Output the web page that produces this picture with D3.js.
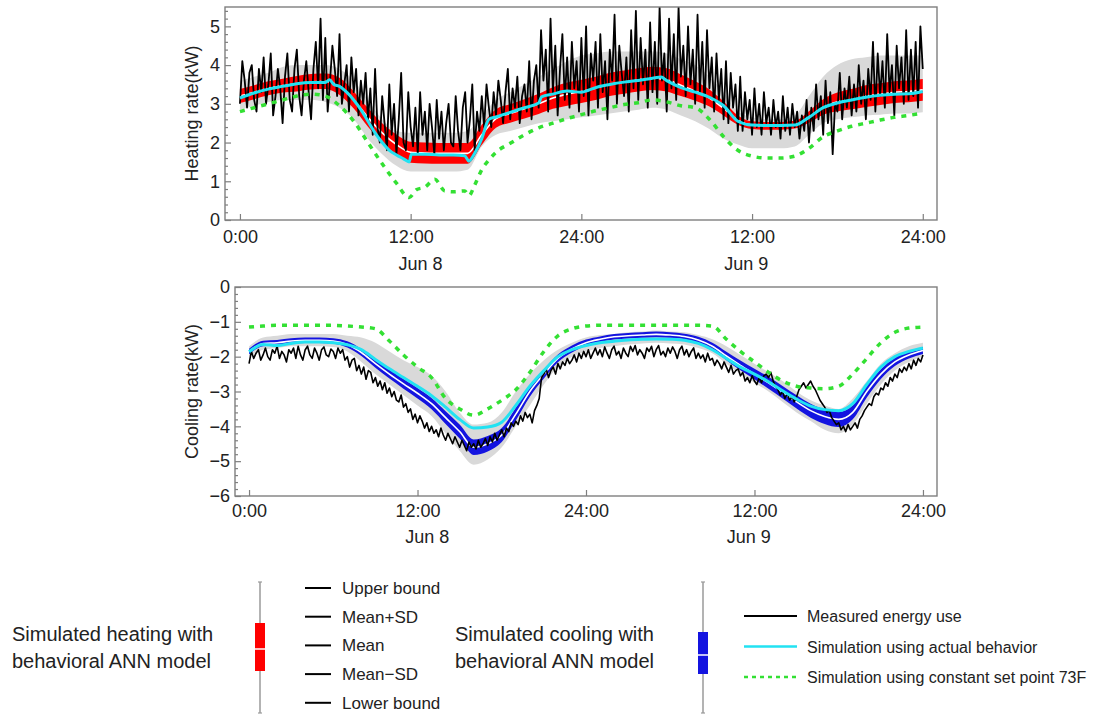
<!DOCTYPE html>
<html>
<head>
<meta charset="utf-8">
<script src="https://cdn.jsdelivr.net/npm/d3@7"></script>
<style>
	body { margin: 0; background: #fff; }
	svg { display: block; font-family: 'Liberation Sans', Arial, sans-serif; }
</style>
</head>
<body>
<div class="chart"></div>
<script>
const HOURS = d3.range(0, 49)
const STEP = 1 / 6 // measured data every 10 min
const X_TICKS = [0, 12, 24, 36, 48]
const X_TICK_LABELS = ['0:00', '12:00', '24:00', '12:00', '24:00']
const DAY_LABELS = ['Jun 8', 'Jun 9']
const DAY_AT = [12.7, 35.6]

const COLORS = { band: '#d9d9d9', heat: '#ff0000', cool: '#1414e0', actual: '#22e2f2', constant: '#33e033', measured: '#000' }

// ---- heating ----
const heatUpper = [3.6,3.7,3.8,3.95,4.0,4.0,4.0,3.9,3.6,3.1, 2.6,2.3,2.25,2.25,2.25,2.25,2.3,2.7,3.1,3.3, 3.5,3.7,3.9,4.1,4.25,4.3,4.35,4.35,4.35,4.35, 4.3,4.15,4.0,3.7,3.3,2.8,2.65,2.6,2.6,2.7, 3.2,3.7,4.0,4.15,4.2,4.25,4.25,4.25,4.25]
const heatLower = [2.85,2.95,3.05,3.1,3.1,3.1,3.05,2.9,2.6,2.1, 1.7,1.4,1.25,1.25,1.25,1.25,1.3,1.9,2.2,2.3, 2.4,2.5,2.55,2.6,2.65,2.7,2.75,2.8,2.85,2.9, 2.85,2.7,2.55,2.35,2.1,1.95,1.85,1.85,1.85,1.9, 2.2,2.5,2.6,2.65,2.7,2.72,2.75,2.75,2.78]
const heatMean = [3.2,3.3,3.4,3.47,3.52,3.57,3.58,3.45,3.1,2.65, 2.25,1.95,1.75,1.73,1.72,1.72,1.72,2.2,2.62,2.75, 2.87,3.0,3.15,3.25,3.32,3.4,3.5,3.56,3.62,3.66, 3.62,3.48,3.33,3.15,2.88,2.58,2.45,2.43,2.43,2.46, 2.66,2.92,3.05,3.12,3.2,3.25,3.3,3.32,3.36]
const heatSd = [0.18,0.18,0.18,0.18,0.2,0.2,0.2,0.22,0.22,0.24, 0.25,0.26,0.27,0.27,0.27,0.27,0.27,0.26,0.24,0.24, 0.25,0.26,0.28,0.3,0.3,0.3,0.3,0.3,0.3,0.3, 0.3,0.28,0.25,0.22,0.18,0.12,0.1,0.1,0.1,0.1, 0.15,0.2,0.24,0.26,0.28,0.28,0.28,0.28,0.28]
const heatActual = [[0,3.15],[1,3.28],[2,3.38],[3,3.45],[4,3.52],[5,3.55],[6,3.55],[6.3,3.62],[6.6,3.5],[7,3.45],[7.5,3.3],[8,3.1],[8.5,2.85],[9,2.55],[9.5,2.25],[10,2.0],[10.5,1.8],[11,1.68],[11.5,1.58],[11.9,1.5],[12.05,1.7],[13,1.7],[14,1.68],[15,1.68],[15.8,1.66],[16.1,1.52],[16.4,1.66],[17,2.1],[17.5,2.6],[18,2.66],[19,2.78],[20,2.9],[21,3.02],[21.2,3.18],[22,3.25],[23,3.33],[24,3.3],[24.5,3.35],[25,3.42],[26,3.5],[27,3.56],[28,3.6],[29,3.66],[29.6,3.69],[30,3.6],[31,3.42],[32,3.3],[33,3.17],[34,2.95],[35,2.55],[36,2.45],[37,2.44],[38,2.44],[39,2.45],[40,2.65],[41,2.9],[42,3.02],[43,3.1],[44,3.17],[45,3.22],[46,3.25],[47,3.26],[48,3.32]]
const heatConstant = [[0,2.8],[1,2.9],[2,3.0],[3,3.1],[4,3.2],[5,3.25],[6,3.2],[7,2.95],[8,2.55],[9,2.0],[10,1.45],[11,0.95],[11.9,0.58],[12.4,0.78],[13,0.85],[13.7,1.05],[14.4,0.75],[15,0.73],[15.8,0.75],[16.1,0.63],[16.5,0.9],[17,1.3],[17.5,1.55],[18,1.75],[19,1.98],[20,2.2],[21,2.38],[22,2.5],[23,2.62],[24,2.72],[25,2.82],[26,2.9],[27,2.98],[28,3.03],[29,3.1],[30,3.05],[31,2.95],[32,2.9],[33,2.6],[34,2.15],[35,1.8],[36,1.65],[37,1.6],[38,1.6],[39,1.65],[40,1.85],[41,2.15],[42,2.3],[43,2.42],[44,2.5],[45,2.58],[46,2.65],[47,2.7],[48,2.76]]
const heatMeasured = [
	3.0,4.1,3.6,2.9,3.8,4.0, 3.1,2.8,3.9,3.3,4.2,3.0, 3.5,4.3,2.7,3.2,3.9,3.4, 2.5,3.7,4.3,3.1,2.8,3.9,
	4.4,3.2,2.7,3.6,4.1,3.3, 2.6,3.9,4.6,3.4,5.2,3.1, 4.7,2.8,3.6,4.5,3.9,3.2, 4.8,3.0,3.5,4.0,2.8,4.2,
	3.3,3.9,2.7,3.6,3.0,3.8, 2.6,3.4,2.2,3.9,2.4,2.0, 3.2,2.5,1.8,3.5,2.2,3.0, 1.7,2.6,3.8,2.0,1.8,3.3,
	2.4,1.9,2.9,1.7,3.3,2.2, 2.8,1.8,3.0,2.4,1.7,3.1, 2.1,2.8,1.8,2.5,3.0,2.0, 1.9,3.2,2.3,1.8,2.9,3.3,
	2.0,2.6,3.5,1.8,2.8,2.3, 3.2,2.4,3.5,2.9,2.4,3.3, 2.7,3.6,3.1,2.5,3.3,3.9, 2.6,3.4,2.9,3.7,2.5,3.2,
	3.5,2.8,4.1,2.6,3.6,4.0, 2.9,4.9,3.6,4.4,2.8,5.2, 3.3,4.5,2.7,3.9,4.8,3.1, 4.2,2.9,4.6,3.4,4.1,2.8,
	4.7,3.2,5.0,2.7,4.3,3.6, 4.6,2.9,4.8,3.3,4.1,2.6, 4.4,3.6,5.3,3.0,4.5,3.8, 3.2,4.2,2.8,4.9,3.4,5.4,
	3.1,4.7,3.5,4.4,2.9,5.1, 3.3,4.6,3.0,5.5,3.6,4.3, 2.8,5.2,3.4,4.8,3.1,5.5, 3.7,4.5,3.2,5.0,3.5,4.4,
	3.0,5.3,3.3,4.6,2.9,4.9, 3.4,4.2,2.8,4.3,3.1,3.9, 2.6,4.1,2.5,3.8,2.9,3.5, 2.3,3.7,2.3,3.3,2.6,3.1,
	2.2,3.4,2.4,3.0,2.2,3.3, 2.5,2.9,2.2,3.1,2.4,2.8, 2.1,3.2,2.3,2.9,2.2,3.0, 2.4,2.8,2.1,2.7,2.3,3.1,
	2.0,2.9,2.3,3.5,2.6,3.2, 2.2,3.6,2.5,3.3,1.7,3.0, 2.8,3.8,2.6,3.4,2.9,3.7, 2.7,3.5,2.8,4.0,3.0,3.6,
	2.6,3.9,3.1,4.6,2.8,4.3, 3.2,4.1,2.9,4.8,3.3,4.0, 2.7,4.5,3.4,4.2,3.0,4.9, 3.1,4.4,3.2,4.6,2.9,5.0,
	3.9
]

// ---- cooling ----
const coolUpper = [-1.7,-1.45,-1.4,-1.35,-1.35,-1.35,-1.35,-1.4,-1.45,-1.6, -1.85,-2.1,-2.3,-2.55,-3.0,-3.6,-3.95,-3.9,-3.6,-3.0, -2.5,-2.1,-1.8,-1.6,-1.45,-1.38,-1.35,-1.3,-1.28,-1.25, -1.28,-1.3,-1.38,-1.5,-1.7,-1.95,-2.2,-2.45,-2.7,-3.0, -3.25,-3.4,-3.5,-3.2,-2.7,-2.2,-1.9,-1.7,-1.6]
const coolLower = [-2.0,-1.8,-1.75,-1.7,-1.7,-1.7,-1.72,-1.85,-2.15,-2.5, -2.8,-3.1,-3.4,-3.7,-4.2,-4.7,-5.1,-4.95,-4.6,-4.0, -3.4,-2.8,-2.3,-2.0,-1.85,-1.75,-1.7,-1.65,-1.62,-1.6, -1.62,-1.65,-1.75,-1.9,-2.2,-2.5,-2.75,-3.0,-3.3,-3.6, -3.85,-4.1,-4.2,-3.95,-3.35,-2.8,-2.4,-2.15,-2.0]
const coolMean = [-1.85,-1.62,-1.6,-1.55,-1.53,-1.53,-1.55,-1.65,-1.88,-2.2, -2.5,-2.78,-3.05,-3.35,-3.75,-4.15,-4.6,-4.5,-4.25,-3.65, -3.0,-2.5,-2.05,-1.78,-1.6,-1.5,-1.43,-1.4,-1.38,-1.36, -1.38,-1.42,-1.52,-1.7,-1.98,-2.25,-2.5,-2.75,-3.02,-3.3, -3.55,-3.72,-3.8,-3.6,-3.0,-2.5,-2.15,-1.95,-1.82]
const coolSd = [0.08,0.08,0.08,0.08,0.08,0.08,0.08,0.09,0.1,0.12, 0.13,0.14,0.15,0.16,0.18,0.2,0.22,0.22,0.2,0.18, 0.15,0.13,0.11,0.1,0.09,0.08,0.08,0.08,0.08,0.08, 0.08,0.08,0.09,0.1,0.12,0.14,0.15,0.17,0.18,0.19, 0.2,0.21,0.22,0.2,0.17,0.14,0.12,0.1,0.1]
const coolActual = [-1.86,-1.65,-1.68,-1.62,-1.58,-1.58,-1.6,-1.66,-1.8,-2.08, -2.35,-2.6,-2.85,-3.12,-3.45,-3.8,-4.05,-4.02,-3.88,-3.4, -2.85,-2.4,-2.0,-1.8,-1.68,-1.6,-1.56,-1.52,-1.5,-1.49, -1.5,-1.53,-1.62,-1.8,-2.05,-2.3,-2.5,-2.72,-2.98,-3.22, -3.42,-3.52,-3.55,-3.35,-2.8,-2.3,-2.0,-1.85,-1.75]
const coolConstant = [-1.15,-1.12,-1.1,-1.1,-1.1,-1.1,-1.1,-1.12,-1.15,-1.2, -1.55,-1.95,-2.3,-2.6,-3.2,-3.5,-3.68,-3.5,-3.25,-2.95, -2.45,-1.85,-1.4,-1.2,-1.12,-1.1,-1.1,-1.1,-1.1,-1.1, -1.1,-1.1,-1.1,-1.12,-1.5,-1.85,-2.15,-2.45,-2.7,-2.85, -2.9,-2.92,-2.85,-2.5,-2.05,-1.6,-1.3,-1.18,-1.15]
const coolMeasured = [
	-2.2,-1.85,-2.05,-1.9,-1.8,-2.1, -1.95,-1.75,-2.0,-2.1,-1.8,-1.9, -1.7,-2.05,-1.85,-1.95,-2.15,-1.8, -1.9,-1.75,-2.05,-1.7,-1.95,-2.1,
	-1.8,-1.7,-1.95,-2.05,-1.75,-1.9, -2.1,-1.8,-1.72,-1.95,-2.0,-1.78, -1.85,-2.05,-1.75,-1.9,-1.8,-2.1, -2.0,-2.3,-2.1,-2.05,-2.4,-2.25,
	-2.5,-2.3,-2.65,-2.4,-2.45,-2.75, -2.6,-2.85,-2.7,-2.95,-2.75,-3.05, -2.9,-3.15,-3.0,-3.25,-3.3,-3.1, -3.45,-3.35,-3.6,-3.5,-3.8,-3.65,
	-3.9,-3.7,-3.85,-4.05,-3.9,-4.15, -4.0,-4.2,-4.1,-4.3,-4.05,-4.25, -4.4,-4.2,-4.35,-4.5,-4.3,-4.45, -4.6,-4.4,-4.55,-4.7,-4.45,-4.6,
	-4.5,-4.65,-4.4,-4.6,-4.5,-4.35, -4.55,-4.3,-4.45,-4.2,-4.4,-4.25, -4.1,-4.3,-4.05,-4.15,-3.9,-4.0, -3.85,-3.95,-3.7,-3.85,-3.6,-3.75,
	-3.65,-3.9,-3.55,-3.4,-3.2,-2.6, -2.5,-2.35,-2.6,-2.4,-2.3,-2.5, -2.2,-2.35,-2.15,-2.25,-2.05,-2.2, -2.1,-1.95,-2.15,-1.9,-2.05,-1.85,
	-2.0,-1.8,-2.05,-1.9,-1.75,-1.95, -1.8,-2.0,-1.72,-1.9,-2.05,-1.8, -1.7,-1.95,-1.85,-2.05,-1.75,-1.9, -2.0,-1.7,-1.85,-1.68,-1.95,-1.8,
	-1.9,-2.05,-1.75,-1.85,-1.7,-2.0, -1.8,-1.68,-1.95,-1.85,-2.0,-1.75, -1.9,-1.72,-1.85,-2.05,-1.8,-1.7, -1.95,-1.8,-2.0,-1.85,-1.75,-2.05,
	-1.9,-2.05,-1.95,-2.15,-1.9,-2.1, -2.05,-2.25,-2.1,-2.2,-2.35,-2.15, -2.3,-2.45,-2.25,-2.5,-2.4,-2.35, -2.55,-2.45,-2.7,-2.6,-2.75,-2.55,
	-2.7,-2.8,-2.6,-2.75,-2.55,-2.5, -2.6,-2.45,-2.7,-2.85,-2.95,-3.1, -3.0,-3.2,-3.05,-3.25,-3.15,-3.3, -3.15,-2.95,-2.85,-2.75,-2.9,-2.8,
	-2.7,-2.85,-2.95,-3.1,-3.25,-3.35, -3.45,-3.6,-3.55,-3.75,-3.85,-3.95, -3.9,-4.1,-4.0,-4.15,-3.95,-4.1, -4.0,-3.9,-4.05,-3.8,-3.7,-3.55,
	-3.45,-3.35,-3.4,-3.15,-3.05,-3.1, -2.9,-2.95,-2.75,-2.85,-2.6,-2.7, -2.5,-2.6,-2.35,-2.45,-2.3,-2.4, -2.2,-2.35,-2.1,-2.25,-2.05,-2.15,
	-1.95
]

const HEAT_LEGEND = ['Upper bound', 'Mean+SD', 'Mean', 'Mean\u2212SD', 'Lower bound']
const COOL_LEGEND = ['Measured energy use', 'Simulation using actual behavior', 'Simulation using constant set point 73F']

const WIDTH = 1120
const HEIGHT = 714
const FONT_SIZE = 18

const svg = d3.select('.chart').append('svg')
	.attr('width', WIDTH)
	.attr('height', HEIGHT)

const hourly = arr => HOURS.map(h => [h, arr[h]])

const panels = [
	{
		id: 'heat', left: 225, right: 937, top: 7, bottom: 220, xMin: -1.05,
		yDomain: [0, 5.5], yTicks: d3.range(0, 6), title: 'Heating rate(kW)',
		xPad: 10, dayY: 270, titleX: 198,
		upper: heatUpper, lower: heatLower, mean: heatMean, sd: heatSd, bandColor: COLORS.heat,
		actual: heatActual, constant: heatConstant, measured: heatMeasured, measuredWidth: 1.8,
	},
	{
		id: 'cool', left: 235, right: 937, top: 287, bottom: 496, xMin: -1.0,
		yDomain: [-6, 0], yTicks: d3.range(-6, 1), title: 'Cooling rate(kW)',
		xPad: 8, dayY: 543, titleX: 198,
		upper: coolUpper, lower: coolLower, mean: coolMean, sd: coolSd, bandColor: COLORS.cool,
		actual: hourly(coolActual), constant: hourly(coolConstant), measured: coolMeasured, measuredWidth: 1.6,
	},
]

function drawPanel(p) {
	const x = d3.scaleLinear().domain([p.xMin, 49]).range([p.left, p.right])
	const y = d3.scaleLinear().domain(p.yDomain).range([p.bottom, p.top])

	svg.append('clipPath').attr('id', 'clip-' + p.id)
		.append('rect')
		.attr('x', p.left).attr('y', p.top)
		.attr('width', p.right - p.left).attr('height', p.bottom - p.top)

	const plot = svg.append('g').attr('clip-path', `url(#clip-${p.id})`)

	// min/max of the behavioural model runs
	plot.append('path').datum(HOURS)
		.attr('fill', COLORS.band)
		.attr('d', d3.area().curve(d3.curveMonotoneX)
			.x(h => x(h)).y0(h => y(p.lower[h])).y1(h => y(p.upper[h])))

	// mean +- sd
	plot.append('path').datum(HOURS)
		.attr('fill', p.bandColor)
		.attr('d', d3.area().curve(d3.curveMonotoneX)
			.x(h => x(h)).y0(h => y(p.mean[h] - p.sd[h])).y1(h => y(p.mean[h] + p.sd[h])))

	plot.append('path').datum(HOURS)
		.attr('fill', 'none').attr('stroke', '#fff').attr('stroke-width', 1.6)
		.attr('d', d3.line().curve(d3.curveMonotoneX).x(h => x(h)).y(h => y(p.mean[h])))

	plot.append('path').datum(p.measured)
		.attr('fill', 'none').attr('stroke', COLORS.measured).attr('stroke-width', p.measuredWidth)
		.attr('stroke-linejoin', 'round')
		.attr('d', d3.line().x((v, i) => x(i * STEP)).y(v => y(v)))

	plot.append('path').datum(p.actual)
		.attr('fill', 'none').attr('stroke', COLORS.actual).attr('stroke-width', 3)
		.attr('d', d3.line().curve(d3.curveMonotoneX).x(d => x(d[0])).y(d => y(d[1])))

	plot.append('path').datum(p.constant)
		.attr('fill', 'none').attr('stroke', COLORS.constant).attr('stroke-width', 3.5)
		.attr('stroke-dasharray', '5,6')
		.attr('d', d3.line().curve(d3.curveMonotoneX).x(d => x(d[0])).y(d => y(d[1])))

	// frame
	svg.append('rect')
		.attr('x', p.left).attr('y', p.top)
		.attr('width', p.right - p.left).attr('height', p.bottom - p.top)
		.attr('fill', 'none').attr('stroke', '#7f7f7f').attr('stroke-width', 1.4)

	const minor = d3.range(p.yDomain[0], p.yDomain[1] + 1e-6, 0.2)
		.filter(v => Math.abs(v - Math.round(v)) > 1e-6)

	const yMinor = svg.append('g')
		.attr('transform', `translate(${p.left},0)`)
		.call(d3.axisLeft(y).tickValues(minor).tickSize(-3).tickFormat(''))

	const yAxis = svg.append('g')
		.attr('transform', `translate(${p.left},0)`)
		.call(d3.axisLeft(y).tickValues(p.yTicks).tickSize(-6).tickPadding(5).tickFormat(d3.format('d')))

	const xAxis = svg.append('g')
		.attr('transform', `translate(0,${p.bottom})`)
		.call(d3.axisBottom(x).tickValues(X_TICKS).tickSize(-6).tickPadding(p.xPad)
			.tickFormat((d, i) => X_TICK_LABELS[i]))

	for (const a of [yMinor, yAxis, xAxis]) {
		a.select('.domain').remove()
		a.selectAll('line').attr('stroke', '#7f7f7f').attr('stroke-width', 1.2)
		a.selectAll('text').attr('fill', '#222').style('font-size', FONT_SIZE + 'px')
	}

	svg.append('g').selectAll('text').data(DAY_LABELS).join('text')
		.attr('x', (d, i) => x(DAY_AT[i]))
		.attr('y', p.dayY)
		.attr('text-anchor', 'middle')
		.attr('fill', '#222')
		.style('font-size', FONT_SIZE + 'px')
		.text(d => d)

	svg.append('text')
		.attr('transform', `translate(${p.titleX},${(p.top + p.bottom) / 2}) rotate(-90)`)
		.attr('text-anchor', 'middle')
		.attr('fill', '#222')
		.style('font-size', FONT_SIZE + 'px')
		.text(p.title)
}

panels.forEach(drawPanel)

// ---- legend ----
function boxGlyph(g, cx, boxTop, boxBottom, mid, color) {
	g.append('line').attr('x1', cx).attr('x2', cx).attr('y1', 582).attr('y2', 713)
		.attr('stroke', '#9a9a9a').attr('stroke-width', 1.5)
	g.append('line').attr('x1', cx - 2).attr('x2', cx + 2).attr('y1', 582).attr('y2', 582)
		.attr('stroke', '#9a9a9a').attr('stroke-width', 1.2)
	g.append('line').attr('x1', cx - 2).attr('x2', cx + 2).attr('y1', 713).attr('y2', 713)
		.attr('stroke', '#9a9a9a').attr('stroke-width', 1.2)
	g.append('rect').attr('x', cx - 5).attr('y', boxTop).attr('width', 10).attr('height', boxBottom - boxTop)
		.attr('fill', color)
	g.append('line').attr('x1', cx - 5).attr('x2', cx + 5).attr('y1', mid).attr('y2', mid)
		.attr('stroke', '#fff').attr('stroke-width', 1.5)
}

const legend = svg.append('g').attr('fill', '#222')

legend.append('text').attr('x', 12).attr('y', 641).style('font-size', '20px').text('Simulated heating with')
legend.append('text').attr('x', 12).attr('y', 668).style('font-size', '20px').text('behavioral ANN model')
boxGlyph(legend, 260, 623, 671, 649, COLORS.heat)

const heatItems = legend.append('g').selectAll('g').data(HEAT_LEGEND).join('g')
	.attr('transform', (d, i) => `translate(0,${588 + i * 28.7})`)
heatItems.append('line').attr('x1', 305).attr('x2', 331).attr('stroke', '#000').attr('stroke-width', 2)
heatItems.append('text').attr('x', 342).attr('y', 6).style('font-size', '17px').text(d => d)

legend.append('text').attr('x', 455).attr('y', 641).style('font-size', '20px').text('Simulated cooling with')
legend.append('text').attr('x', 455).attr('y', 668).style('font-size', '20px').text('behavioral ANN model')
boxGlyph(legend, 703, 632, 674, 655, COLORS.cool)

const coolStyles = [
	{ color: COLORS.measured, width: 2, dash: null },
	{ color: COLORS.actual, width: 2.5, dash: null },
	{ color: COLORS.constant, width: 2.5, dash: '4,4' },
]
const coolItems = legend.append('g').selectAll('g').data(COOL_LEGEND).join('g')
	.attr('transform', (d, i) => `translate(0,${616 + i * 30.5})`)
coolItems.append('line').attr('x1', 744).attr('x2', 797)
	.attr('stroke', (d, i) => coolStyles[i].color)
	.attr('stroke-width', (d, i) => coolStyles[i].width)
	.attr('stroke-dasharray', (d, i) => coolStyles[i].dash)
coolItems.append('text').attr('x', 807).attr('y', 6).style('font-size', '16px').text(d => d)
</script>
</body>
</html>
